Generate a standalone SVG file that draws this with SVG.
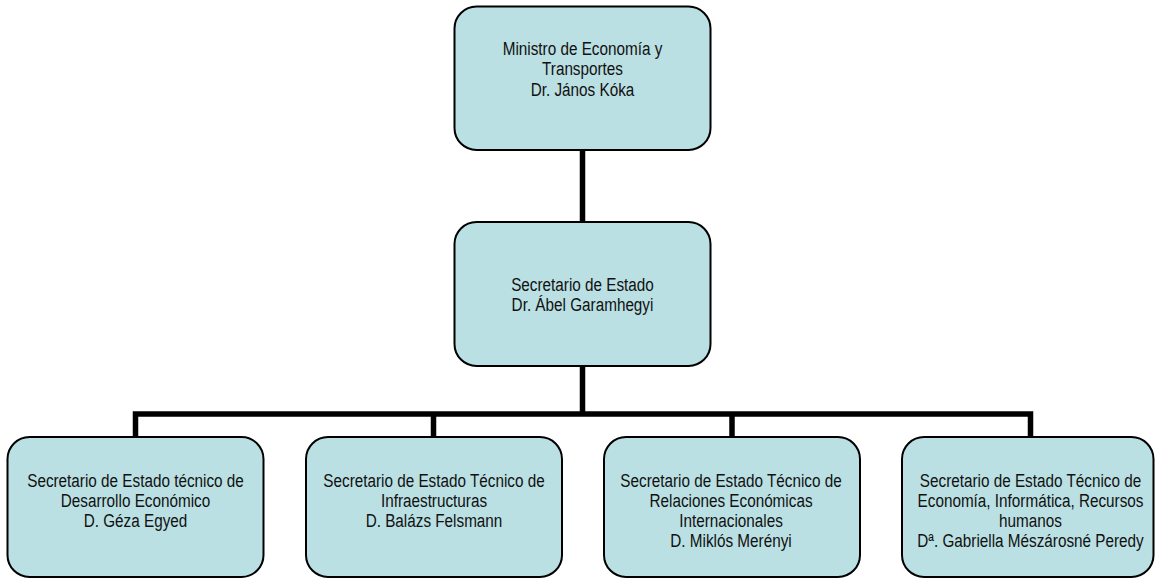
<svg xmlns="http://www.w3.org/2000/svg" width="1155" height="578" viewBox="0 0 1155 578">
<style>
.box{fill:#bae0e3;stroke:#000;stroke-width:2}
.lbl{font-family:"Liberation Sans",Arial,sans-serif;font-size:15.3px;fill:#111;text-anchor:middle}
.conn{fill:none;stroke:#000;stroke-width:5.5;stroke-linejoin:miter}
</style>
<rect width="1155" height="578" fill="#fff"/>
<g id="connectors">
<path class="conn" d="M582.5 150 V222"/>
<path class="conn" d="M582.5 366 V414"/>
<path class="conn" d="M135.5 437 V414 H1030.5 V437"/>
<path class="conn" d="M433.5 414 V437"/>
<path class="conn" d="M732 414 V437"/>
</g>
<g id="ministro">
<rect class="box" x="454.5" y="6.5" width="256" height="143.5" rx="22"/>
<g transform="translate(582.5,55) scale(1,1.2)"><text class="lbl"><tspan x="0" y="0">Ministro de Economía y</tspan><tspan x="0" y="17">Transportes</tspan><tspan x="0" y="34">Dr. János Kóka</tspan></text></g>
</g>
<g id="secretario">
<rect class="box" x="454.5" y="222" width="256" height="144" rx="22"/>
<g transform="translate(582.5,290.5) scale(1,1.2)"><text class="lbl"><tspan x="0" y="0">Secretario de Estado</tspan><tspan x="0" y="17.5">Dr. Ábel Garamhegyi</tspan></text></g>
</g>
<g id="desarrollo">
<rect class="box" x="7.5" y="437" width="256" height="140" rx="22"/>
<g transform="translate(135.5,487) scale(1,1.2)"><text class="lbl"><tspan x="0" y="0">Secretario de Estado técnico de</tspan><tspan x="0" y="16.67">Desarrollo Económico</tspan><tspan x="0" y="33.33">D. Géza Egyed</tspan></text></g>
</g>
<g id="infraestructuras">
<rect class="box" x="306" y="437" width="256" height="140" rx="22"/>
<g transform="translate(434,487) scale(1,1.2)"><text class="lbl"><tspan x="0" y="0">Secretario de Estado Técnico de</tspan><tspan x="0" y="16.67">Infraestructuras</tspan><tspan x="0" y="33.33">D. Balázs Felsmann</tspan></text></g>
</g>
<g id="relaciones">
<rect class="box" x="604" y="437" width="256" height="140" rx="22"/>
<g transform="translate(731,487) scale(1,1.2)"><text class="lbl"><tspan x="0" y="0">Secretario de Estado Técnico de</tspan><tspan x="0" y="16.67">Relaciones Económicas</tspan><tspan x="0" y="33.33">Internacionales</tspan><tspan x="0" y="50">D. Miklós Merényi</tspan></text></g>
</g>
<g id="economia">
<rect class="box" x="902" y="437" width="251.5" height="140" rx="22"/>
<g transform="translate(1030.5,487) scale(1,1.2)"><text class="lbl"><tspan x="0" y="0">Secretario de Estado Técnico de</tspan><tspan x="0" y="16.67">Economía, Informática, Recursos</tspan><tspan x="0" y="33.33">humanos</tspan><tspan x="0" y="50">Dª. Gabriella Mészárosné Peredy</tspan></text></g>
</g>
</svg>
